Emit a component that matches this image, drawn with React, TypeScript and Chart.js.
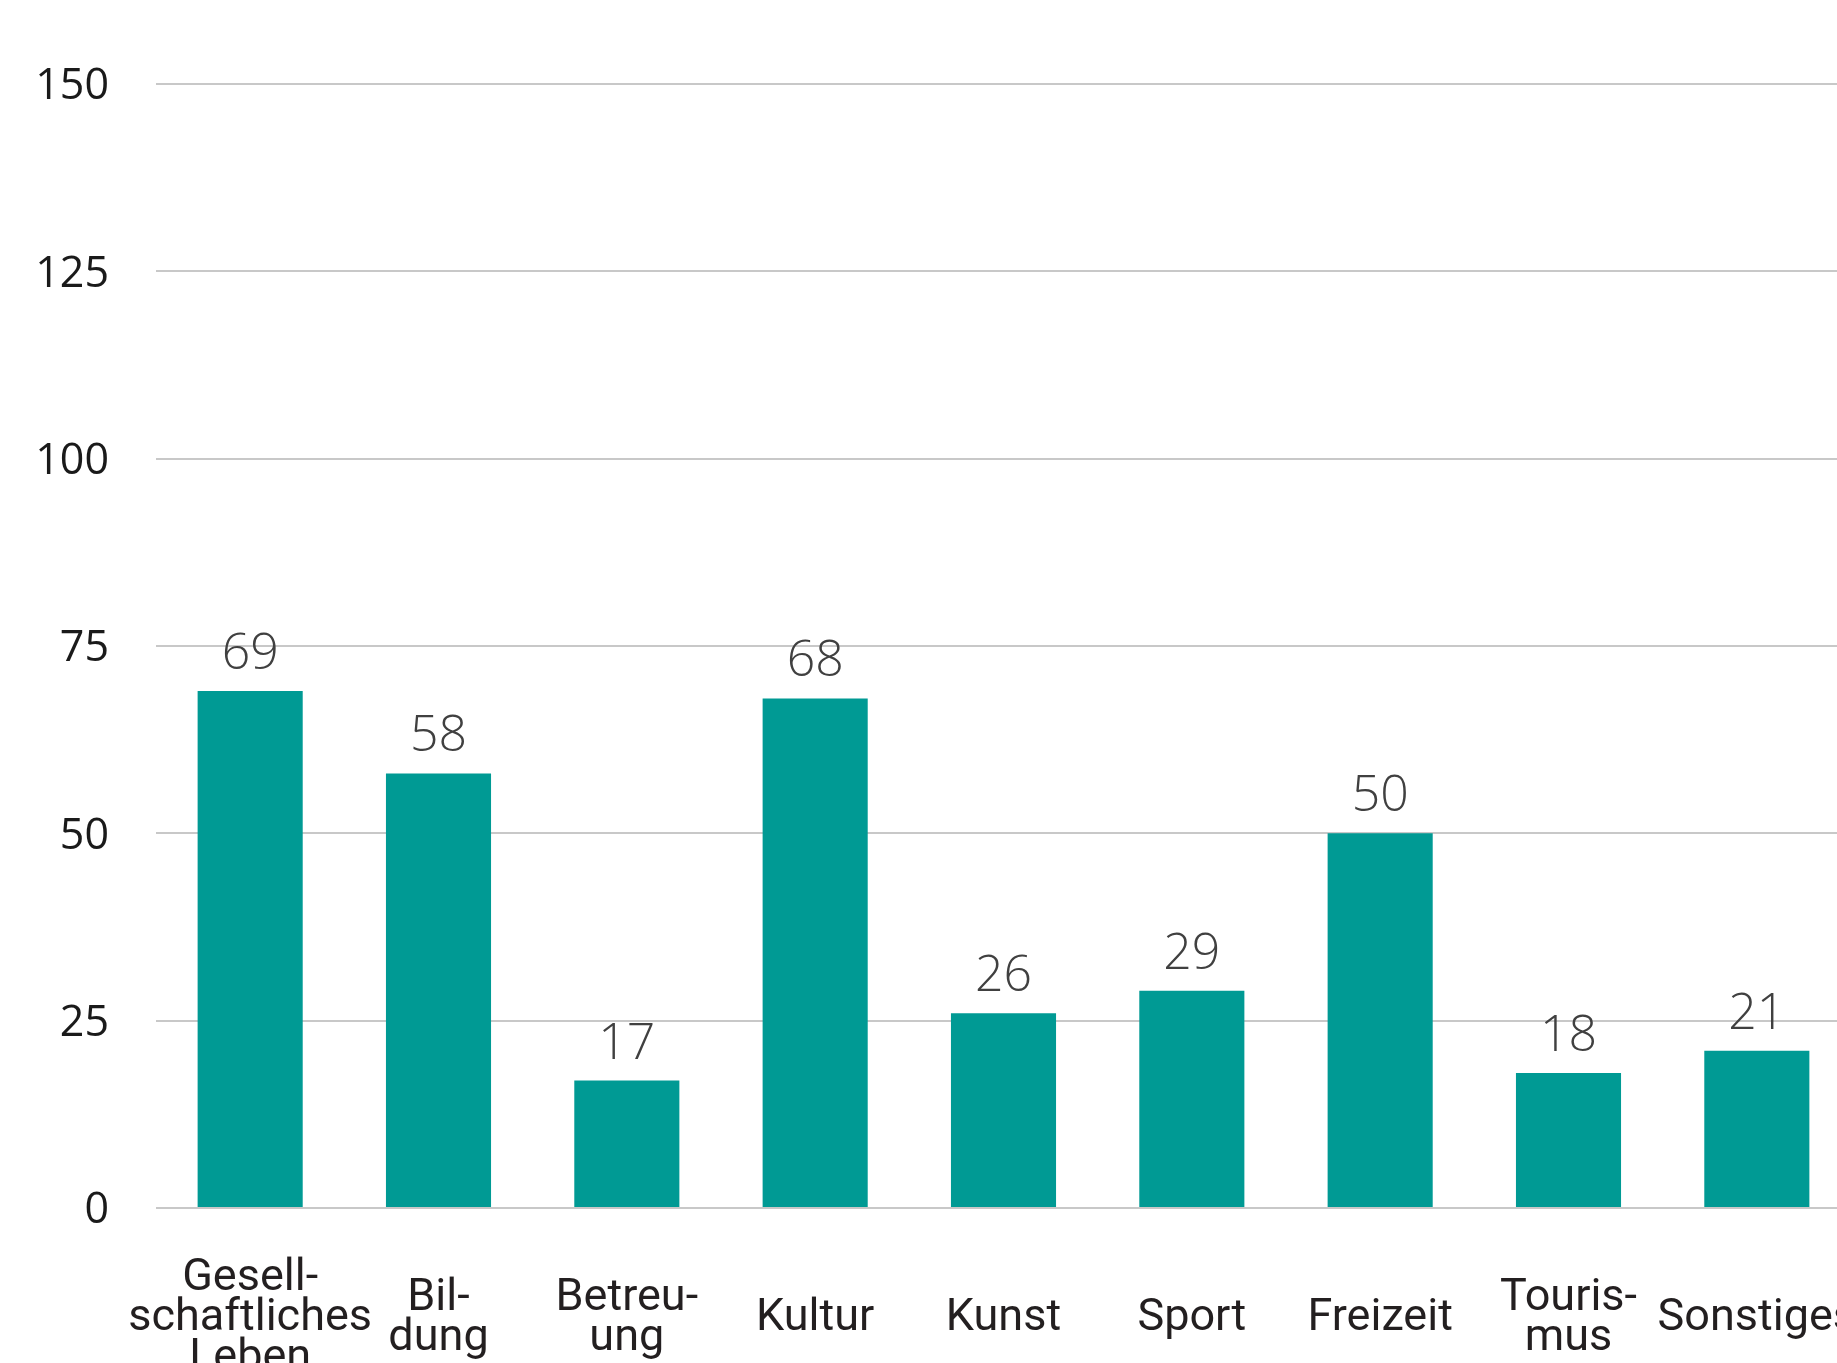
import React, { useEffect, useRef } from "react";
import { Chart, registerables } from "chart.js";

Chart.register(...registerables);

const CATEGORIES: (string | string[])[] = [
  ["Gesell-", "schaftliches", "Leben"],
  ["Bil-", "dung"],
  ["Betreu-", "ung"],
  "Kultur",
  "Kunst",
  "Sport",
  "Freizeit",
  ["Touris-", "mus"],
  "Sonstiges",
];
const VALUES: number[] = [69, 58, 17, 68, 26, 29, 50, 18, 21];
const Y_TICKS: number[] = [0, 25, 50, 75, 100, 125, 150];

const BAR_COLOR = "#009a94";
const GRID_COLOR = "#c8c8c8";

const valueLabels = {
  id: "valueLabels",
  afterDatasetsDraw(chart: any) {
    const ctx = chart.ctx;
    const meta = chart.getDatasetMeta(0);
    const data = chart.data.datasets[0].data as number[];
    ctx.save();
    ctx.font = "300 50px 'Open Sans', sans-serif";
    ctx.fillStyle = "#404040";
    ctx.textAlign = "center";
    ctx.textBaseline = "alphabetic";
    meta.data.forEach((bar: any, i: number) => {
      ctx.fillText(String(data[i]), bar.x, bar.y - 22);
    });
    ctx.restore();
  },
};

export default function App() {
  const ref = useRef<HTMLCanvasElement | null>(null);
  useEffect(() => {
    if (!ref.current) return;
    const chart = new Chart(ref.current, {
      type: "bar",
      data: {
        labels: CATEGORIES,
        datasets: [
          {
            data: VALUES,
            backgroundColor: BAR_COLOR,
            borderWidth: 0,
            categoryPercentage: 1,
            barPercentage: 0.558,
          },
        ],
      },
      plugins: [valueLabels],
      options: {
        responsive: false,
        animation: false,
        devicePixelRatio: 1,
        layout: { padding: { top: 84, right: 0, bottom: 0, left: 0 } },
        plugins: {
          legend: { display: false },
          tooltip: { enabled: false },
        },
        scales: {
          x: {
            grid: { display: false, drawTicks: false },
            border: { display: false },
            ticks: {
              autoSkip: false,
              maxRotation: 0,
              minRotation: 0,
              padding: 71,
              crossAlign: "center",
              color: "#231f20",
              font: { family: "Roboto, 'Liberation Sans', sans-serif", size: 45, weight: "400", lineHeight: 0.89 },
            },
            afterFit(scale: any) {
              scale.height = 212;
              scale.paddingLeft = 0;
              scale.paddingRight = 0;
            },
          },
          y: {
            min: 0,
            max: 150,
            grid: { color: GRID_COLOR, lineWidth: 2, drawTicks: false },
            border: { display: false },
            afterBuildTicks(scale: any) {
              scale.ticks = Y_TICKS.map((v) => ({ value: v }));
            },
            ticks: {
              padding: 47,
              labelOffset: 3,
              color: "#1a1a1a",
              font: { family: "'Open Sans', sans-serif", size: 43, weight: "400" },
            },
            afterFit(scale: any) {
              scale.width = 156;
              scale.paddingTop = 0;
              scale.paddingBottom = 0;
            },
          },
        },
      },
    });
    return () => chart.destroy();
  }, []);

  return (
    <div
      style={{
        position: "fixed",
        left: 0,
        top: 0,
        width: 1837,
        height: 1363,
        overflow: "hidden",
        background: "#ffffff",
      }}
    >
      <canvas
        ref={ref}
        width={1851}
        height={1420}
        style={{ display: "block", width: 1851, height: 1420 }}
      />
    </div>
  );
}
